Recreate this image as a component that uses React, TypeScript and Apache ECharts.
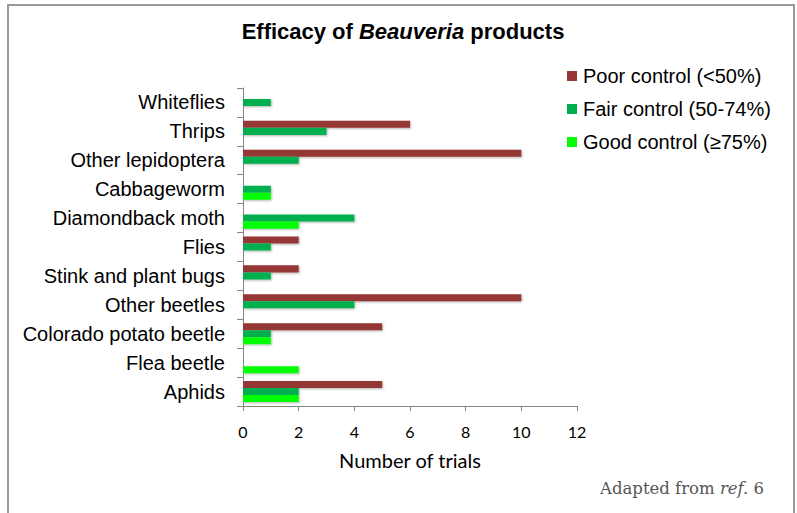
import React, { useEffect, useRef } from "react";
import * as echarts from "echarts";

const categories = [
  "Aphids",
  "Flea beetle",
  "Colorado potato beetle",
  "Other beetles",
  "Stink and plant bugs",
  "Flies",
  "Diamondback moth",
  "Cabbageworm",
  "Other lepidoptera",
  "Thrips",
  "Whiteflies",
];
const poorControl = [5, 0, 5, 10, 2, 2, 0, 0, 10, 6, 0];
const fairControl = [2, 0, 1, 4, 1, 1, 4, 1, 2, 3, 1];
const goodControl = [2, 2, 1, 0, 0, 0, 2, 1, 0, 0, 0];
const seriesNames = ["Poor control (<50%)", "Fair control (50-74%)", "Good control (≥75%)"];
const xTicks = [0, 2, 4, 6, 8, 10, 12];

export default function App() {
  const ref = useRef<HTMLDivElement>(null);
  useEffect(() => {
    if (!ref.current) return;
    const chart = echarts.init(ref.current, null, { renderer: "svg" });
    const shadow = {
      shadowColor: "rgba(0,0,0,0.3)",
      shadowBlur: 2,
      shadowOffsetX: 1,
      shadowOffsetY: 1,
    };
    const mk = (name: string, data: number[], color: string) => ({
      name,
      type: "bar",
      data: data.map((v) => (v === 0 ? null : v)),
      barGap: "0%",
      barCategoryGap: "27%",
      itemStyle: { color, ...shadow },
    });
    chart.setOption({
      animation: false,
      backgroundColor: "#fff",
      title: {
        text: "{a|Efficacy of }{b|Beauveria}{a| products}",
        left: 398,
        textAlign: "center",
        top: 15,
        textStyle: {
          rich: {
            a: { fontFamily: "Liberation Sans, Arial", fontWeight: "bold", fontSize: 22, color: "#000" },
            b: { fontFamily: "Liberation Sans, Arial", fontWeight: "bold", fontStyle: "italic", fontSize: 22, color: "#000" },
          },
        },
      },
      legend: {
        orient: "vertical",
        left: 562,
        top: 61,
        itemWidth: 10,
        itemHeight: 10,
        itemGap: 13,
        icon: "rect",
        data: seriesNames,
        textStyle: { fontFamily: "Liberation Sans, Arial", fontSize: 20, color: "#000", padding: [0, 0, 0, 1] },
      },
      grid: { left: 243, right: 220, top: 88, bottom: 107, containLabel: false },
      xAxis: {
        type: "value",
        min: 0,
        max: 12,
        interval: 2,
        name: "Number of trials",
        nameLocation: "middle",
        nameGap: 44,
        nameTextStyle: { fontFamily: "Lato", fontSize: 20, color: "#000" },
        axisLine: { show: true, lineStyle: { color: "#868686" } },
        axisTick: { show: true, length: 5, lineStyle: { color: "#868686" } },
        axisLabel: {
          fontFamily: "Lato",
          fontSize: 16,
          color: "#000",
          margin: 17,
          formatter: (v: number) => (xTicks.includes(v) ? String(v) : ""),
        },
        splitLine: { show: false },
      },
      yAxis: {
        type: "category",
        data: categories,
        axisLine: { show: true, lineStyle: { color: "#868686" } },
        axisTick: { show: true, length: 6, lineStyle: { color: "#868686" } },
        axisLabel: { fontFamily: "Liberation Sans, Arial", fontSize: 20, color: "#000", margin: 18 },
      },
      graphic: [
        {
          type: "rect",
          shape: { x: 8, y: 5, width: 786, height: 530 },
          style: { fill: "none", stroke: "#9a9a9a", lineWidth: 2 },
          silent: true,
        },
        {
          type: "text",
          left: 600,
          top: 480,
          style: {
            text: "{a|Adapted from }{b|ref.}{a| 6}",
            rich: {
              a: { fontFamily: "DejaVu Serif", fontSize: 16.5, fill: "#555" },
              b: { fontFamily: "DejaVu Serif", fontStyle: "italic", fontSize: 16.5, fill: "#555" },
            },
          },
        },
      ],
      series: [
        mk(seriesNames[0], poorControl, "#953735"),
        mk(seriesNames[1], fairControl, "#00B050"),
        mk(seriesNames[2], goodControl, "#00FF00"),
      ],
    });
    return () => chart.dispose();
  }, []);
  return (
    <div
      ref={ref}
      style={{ position: "absolute", left: 0, top: 0, width: 797, height: 513 }}
    />
  );
}
